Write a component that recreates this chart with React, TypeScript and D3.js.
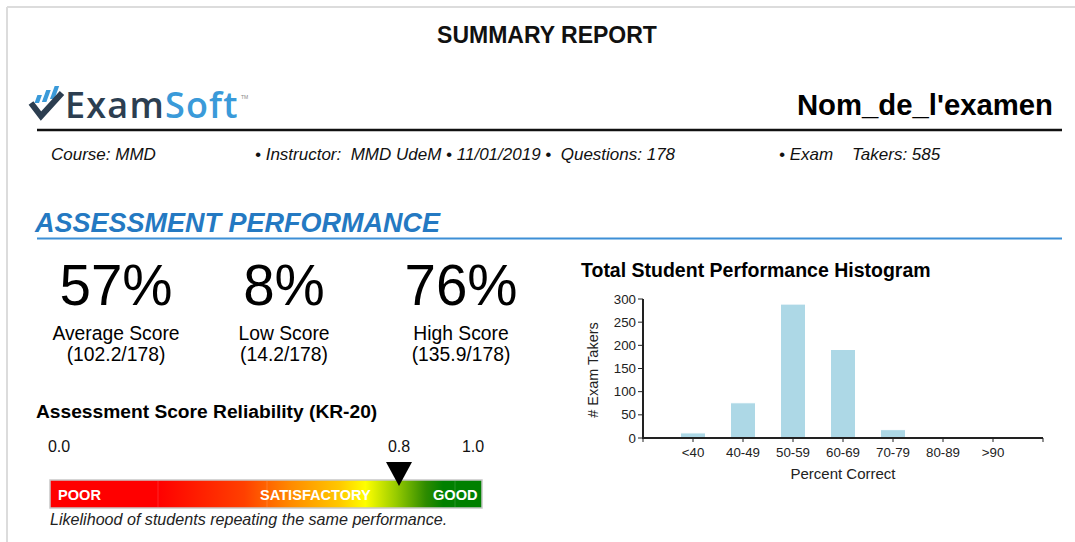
import React from "react";
import * as d3 from "d3";

const categories = ["<40", "40-49", "50-59", "60-69", "70-79", "80-89", ">90"];
const takers = [11, 76, 289, 191, 18, 0, 0];
const yTicks = [0, 50, 100, 150, 200, 250, 300];

const scoreValues = ["57%", "8%", "76%"];
const scoreLabels = ["Average Score", "Low Score", "High Score"];
const scoreDetails = ["(102.2/178)", "(14.2/178)", "(135.9/178)"];

const reliabilityTicks = [
  { label: "0.0", value: 0.0 },
  { label: "0.8", value: 0.8 },
  { label: "1.0", value: 1.0 },
];
const kr20 = 0.8;
const zoneLabels = ["POOR", "SATISFACTORY", "GOOD"];

const FONT = "'Liberation Sans', Arial, sans-serif";

export default function App() {
  const x = d3.scalePoint<string>().domain(categories).range([643, 1043]).padding(1);
  const y = d3.scaleLinear().domain([0, 300]).range([438, 299]);
  const barW = 25;

  const r = d3.scaleLinear().domain([0, 0.8, 1]).range([59, 399, 473]);

  const scoreX = [116, 284, 461];

  return (
    <svg
      width={1075}
      height={542}
      style={{ position: "absolute", left: 0, top: 0, background: "#fff" }}
      fontFamily={FONT}
    >
      <defs>
        <linearGradient id="rel" x1="0" x2="1" y1="0" y2="0">
          <stop offset="0" stopColor="#ff0000" />
          <stop offset="0.25" stopColor="#ff0000" />
          <stop offset="0.45" stopColor="#ff4000" />
          <stop offset="0.56" stopColor="#ff8c00" />
          <stop offset="0.67" stopColor="#ffc800" />
          <stop offset="0.73" stopColor="#ffff00" />
          <stop offset="0.8" stopColor="#99cc00" />
          <stop offset="0.87" stopColor="#2e8b00" />
          <stop offset="0.91" stopColor="#008000" />
          <stop offset="1" stopColor="#008000" />
        </linearGradient>
      </defs>
      {/* page border */}
      <line x1={7} x2={1075} y1={7} y2={7} stroke="#dcdcdc" strokeWidth={2} />
      <line x1={7} x2={7} y1={7} y2={542} stroke="#dcdcdc" strokeWidth={2} />

      <text x={547} y={43} textAnchor="middle" fontWeight="bold" fontSize={23} fill="#111">
        SUMMARY REPORT
      </text>

      {/* logo */}
      <g>
        <rect x={36} y={95} width={4.5} height={8} fill="#3a9ad9" transform="skewX(-20) translate(36,0)" />
        <rect x={43} y={90} width={4.5} height={12} fill="#3a9ad9" transform="skewX(-20) translate(36,0)" />
        <rect x={50} y={86} width={4.5} height={13} fill="#3a9ad9" transform="skewX(-20) translate(36,0)" />
        <polyline points="31,103 41,116 62,93" fill="none" stroke="#2c3e50" strokeWidth={6} />
        <text x={65} y={118} fontFamily="'Open Sans', sans-serif" fontSize={36} fontWeight={600} letterSpacing={1.2}>
          <tspan fill="#2c3e50">Exam</tspan>
          <tspan fill="#3a9ad9">Soft</tspan>
        </text>
        <text x={241} y={99} fontSize={5} fill="#888">TM</text>
      </g>

      <text x={1053} y={115} textAnchor="end" fontWeight="bold" fontSize={29.3} fill="#000">
        Nom_de_l'examen
      </text>
      <line x1={37} x2={1062} y1={130} y2={130} stroke="#111" strokeWidth={2.5} />

      <g fontStyle="italic" fontSize={17} fill="#111">
        <text x={51} y={160}>Course: MMD</text>
        <text x={255} y={160} style={{ whiteSpace: "pre" }}>• Instructor:  MMD UdeM • 11/01/2019 •  Questions: 178</text>
        <text x={779} y={160}>• Exam</text>
        <text x={852} y={160}>Takers: 585</text>
      </g>

      <text x={35} y={232} fontWeight="bold" fontStyle="italic" fontSize={27} fill="#2479c2">
        ASSESSMENT PERFORMANCE
      </text>
      <line x1={37} x2={1062} y1={238.5} y2={238.5} stroke="#3d8fd6" strokeWidth={2} />

      {scoreValues.map((v, i) => (
        <g key={v} textAnchor="middle" fill="#000">
          <text x={scoreX[i]} y={305} fontSize={56.5}>{v}</text>
          <text x={scoreX[i]} y={340} fontSize={19.3}>{scoreLabels[i]}</text>
          <text x={scoreX[i]} y={361} fontSize={19.3}>{scoreDetails[i]}</text>
        </g>
      ))}

      {/* reliability */}
      <text x={36} y={418} fontWeight="bold" fontSize={19.2} fill="#000">
        Assessment Score Reliability (KR-20)
      </text>
      {reliabilityTicks.map((t) => (
        <text key={t.label} x={r(t.value)} y={452} textAnchor="middle" fontSize={16} fill="#111">
          {t.label}
        </text>
      ))}
      <rect x={50} y={480} width={432} height={28} fill="url(#rel)" stroke="#c8c8c8" strokeWidth={1.5} />
      {[158, 267, 455].map((lx) => (
        <line key={lx} x1={lx} x2={lx} y1={481} y2={507} stroke="#ffffff" strokeOpacity={0.15} />
      ))}
      <g fontWeight="bold" fontSize={14.6} fill="#fff">
        <text x={58} y={500}>{zoneLabels[0]}</text>
        <text x={260} y={500}>{zoneLabels[1]}</text>
        <text x={433} y={500}>{zoneLabels[2]}</text>
      </g>
      <path
        d={`M${r(kr20) - 13},462 L${r(kr20) + 13},462 L${r(kr20)},486 Z`}
        fill="#000"
      />
      <text x={50} y={525} fontStyle="italic" fontSize={16.1} fill="#222">
        Likelihood of students repeating the same performance.
      </text>

      {/* histogram */}
      <text x={581} y={277} fontWeight="bold" fontSize={19.5} fill="#000">
        Total Student Performance Histogram
      </text>
      {categories.map((c, i) => (
        <rect
          key={c}
          x={(x(c) as number) - barW / 2}
          y={y(takers[i])}
          width={barW}
          height={438 - y(takers[i])}
          fill="#add8e6"
          stroke="#fff"
          strokeWidth={1}
        />
      ))}
      <line x1={643} x2={643} y1={y(300)} y2={y(0)} stroke="#222" strokeWidth={2} />
      <line x1={642} x2={1043} y1={y(0)} y2={y(0)} stroke="#222" strokeWidth={2} />
      {yTicks.map((t) => (
        <g key={t}>
          <line x1={638} x2={643} y1={y(t)} y2={y(t)} stroke="#222" />
          <text x={636} y={y(t) + 4.5} textAnchor="end" fontSize={13.3} fill="#222">
            {t}
          </text>
        </g>
      ))}
      {categories.map((c) => (
        <g key={c}>
          <line x1={x(c)} x2={x(c)} y1={438} y2={442} stroke="#222" />
          <text x={x(c)} y={457} textAnchor="middle" fontSize={13.3} fill="#222">
            {c}
          </text>
        </g>
      ))}
      <line x1={1043} x2={1043} y1={438} y2={442} stroke="#222" />
      <line x1={643} x2={643} y1={438} y2={442} stroke="#222" />
      <text x={843} y={479} textAnchor="middle" fontSize={15} fill="#222">
        Percent Correct
      </text>
      <text
        transform={`translate(598,${370}) rotate(-90)`}
        textAnchor="middle"
        fontSize={14.5}
        fill="#222"
      >
        # Exam Takers
      </text>
    </svg>
  );
}
